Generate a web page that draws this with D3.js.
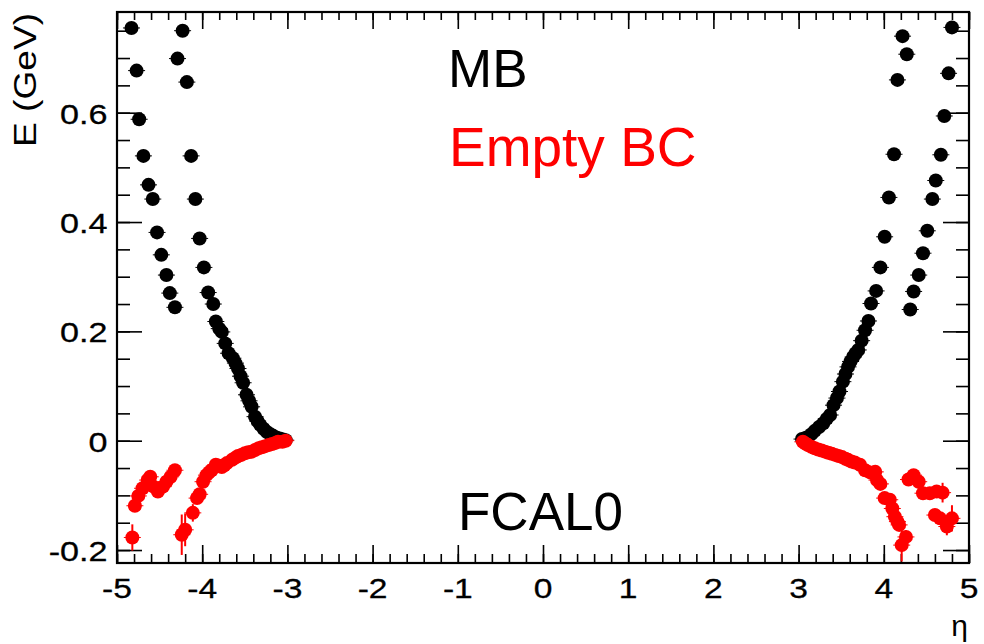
<!DOCTYPE html>
<html><head><meta charset="utf-8">
<script src="https://cdn.jsdelivr.net/npm/d3@7"></script>
<style>body{margin:0;background:#fff}</style>
</head><body>
<svg id="c" width="984" height="644"></svg>
<script>
// ---- data ----
const etaMB = [-4.83,-4.77,-4.74,-4.69,-4.63,-4.58,-4.53,-4.48,-4.42,-4.38,-4.32,
  -4.29,-4.23,-4.18,-4.13,-4.08,-4.03,-3.98,-3.93,-3.87,-3.84,-3.80,-3.77,-3.73,-3.69,-3.64,-3.61,-3.58,-3.55,-3.52,-3.48,-3.45,-3.42,-3.38,-3.35,-3.32,-3.28,-3.24,-3.20,-3.17,-3.13,-3.09,-3.05,-3.02,
  3.04,3.08,3.11,3.15,3.19,3.24,3.29,3.33,3.37,3.41,3.45,3.48,3.52,3.55,3.58,3.61,3.64,3.67,3.70,3.74,3.78,3.82,3.85,3.91,3.96,4.01,4.06,4.12,4.16,4.22,4.27,
  4.31,4.35,4.41,4.46,4.51,4.57,4.61,4.67,4.71,4.76,4.80];
const eMB = [0.755,0.677,0.588,0.521,0.468,0.442,0.381,0.340,0.303,0.270,0.244,
  0.699,0.750,0.656,0.521,0.442,0.370,0.317,0.271,0.250,0.218,0.205,0.199,0.178,0.160,0.151,0.142,0.132,0.118,0.106,0.084,0.073,0.062,0.044,0.036,0.029,0.022,0.016,0.012,0.009,0.006,0.004,0.002,0.001,
  0.003,0.005,0.007,0.012,0.018,0.025,0.032,0.040,0.047,0.065,0.078,0.090,0.108,0.122,0.135,0.145,0.153,0.160,0.166,0.183,0.202,0.219,0.251,0.274,0.317,0.373,0.445,0.524,0.660,0.740,0.707,
  0.240,0.273,0.303,0.343,0.384,0.442,0.476,0.523,0.594,0.672,0.756];

const etaEBC = [-4.82,-4.79,-4.75,-4.70,-4.64,-4.61,-4.57,-4.52,-4.46,-4.42,-4.37,-4.32,
  -4.24,-4.20,-4.11,-4.06,-4.03,-3.99,-3.95,-3.92,-3.89,-3.84,-3.80,-3.77,-3.74,-3.71,-3.65,-3.61,-3.58,-3.54,-3.50,-3.46,-3.42,-3.38,-3.34,-3.30,-3.26,-3.22,-3.18,-3.14,-3.11,-3.06,-3.02,
  3.05,3.08,3.11,3.15,3.19,3.23,3.27,3.31,3.35,3.39,3.43,3.47,3.51,3.55,3.58,3.62,3.66,3.72,3.78,3.84,3.90,3.92,3.96,4.01,4.07,4.10,4.13,4.16,4.18,4.21,4.26,
  4.29,4.35,4.41,4.46,4.54,4.62,4.69,4.60,4.66,4.74,4.80];
const eEBC = [-0.177,-0.119,-0.101,-0.087,-0.072,-0.066,-0.084,-0.093,-0.084,-0.075,-0.066,-0.054,
  -0.172,-0.163,-0.132,-0.105,-0.098,-0.075,-0.063,-0.058,-0.054,-0.044,-0.046,-0.048,-0.045,-0.041,-0.035,-0.031,-0.028,-0.026,-0.023,-0.021,-0.020,-0.017,-0.014,-0.012,-0.010,-0.008,-0.006,-0.004,-0.002,-0.002,0.000,
  -0.002,-0.005,-0.008,-0.011,-0.014,-0.016,-0.018,-0.020,-0.022,-0.024,-0.026,-0.028,-0.030,-0.033,-0.035,-0.038,-0.040,-0.044,-0.054,-0.058,-0.057,-0.072,-0.079,-0.105,-0.108,-0.124,-0.139,-0.148,-0.154,-0.191,-0.176,
  -0.071,-0.063,-0.075,-0.096,-0.096,-0.093,-0.095,-0.136,-0.142,-0.157,-0.142];
const errEBC = [0.024,0.008,0.006,0.006,0.006,0.006,0.006,0.006,0.006,0.006,0.006,0.006,
  0.037,0.030,0.016,0.006,0.006,0.004,0.004,0.004,0.004,0.003,0.003,0.003,0.003,0.003,0.003,0.003,0.003,0.003,0.003,0.003,0.003,0.003,0.003,0.003,0.003,0.003,0.003,0.003,0.003,0.003,0.003,
  0.003,0.003,0.003,0.003,0.003,0.003,0.003,0.003,0.003,0.003,0.003,0.003,0.003,0.003,0.003,0.003,0.003,0.003,0.004,0.004,0.004,0.004,0.005,0.006,0.006,0.008,0.008,0.008,0.008,0.030,0.012,
  0.006,0.006,0.006,0.006,0.008,0.008,0.018,0.008,0.008,0.016,0.024];

const xTickValues = [-5,-4,-3,-2,-1,0,1,2,3,4,5];
const xTickLabels = ["-5","-4","-3","-2","-1","0","1","2","3","4","5"];
const yTickValues = [-0.2,0,0.2,0.4,0.6];
const yTickLabels = ["-0.2","0","0.2","0.4","0.6"];
const xMinor = d3.range(-5, 5.001, 0.2).map(v => +v.toFixed(2));
const yMinor = d3.range(-0.2, 0.7501, 0.05).map(v => +v.toFixed(2));

// ---- layout ----
const L = 117, R = 969, T = 12, B = 563;
const x = d3.scaleLinear().domain([-5, 5]).range([L, R]);
const y = d3.scaleLinear().domain([-0.2237, 0.7842]).range([B, T]);
const svg = d3.select("#c");
const font = "'Liberation Sans', Arial, Helvetica, sans-serif";

// axes ticks (pointing inward)
function tickAxis(gen, tr, size, vals) {
  const g = svg.append("g").attr("transform", tr)
    .call(gen.tickValues(vals).tickSize(size).tickFormat(""));
  g.select(".domain").remove();
  g.selectAll("line").attr("stroke", "#000").attr("stroke-width", 1.6);
}
tickAxis(d3.axisBottom(x), `translate(0,${B})`, -9, xMinor);
tickAxis(d3.axisBottom(x), `translate(0,${B})`, -18, xTickValues);
tickAxis(d3.axisTop(x), `translate(0,${T})`, -8, xMinor);
tickAxis(d3.axisTop(x), `translate(0,${T})`, -17, xTickValues);
tickAxis(d3.axisLeft(y), `translate(${L},0)`, -13, yMinor);
tickAxis(d3.axisLeft(y), `translate(${L},0)`, -25, yTickValues);
tickAxis(d3.axisRight(y), `translate(${R},0)`, -13, yMinor);
tickAxis(d3.axisRight(y), `translate(${R},0)`, -26, yTickValues);

// frame
svg.append("rect").attr("x", L).attr("y", T).attr("width", R - L).attr("height", B - T)
  .attr("fill", "none").attr("stroke", "#000").attr("stroke-width", 2.2);

// tick labels
svg.append("g").selectAll("text").data(xTickValues).join("text")
  .attr("transform", d => `translate(${x(d)},${598}) scale(1.2,1)`)
  .attr("text-anchor", "middle").attr("font-family", font).attr("font-size", 28)
  .attr("stroke", "#000").attr("stroke-width", 0.3)
  .text((d, i) => xTickLabels[i]);
svg.append("g").selectAll("text").data(yTickValues).join("text")
  .attr("transform", d => `translate(${107.5},${y(d) + 11}) scale(1.22,1)`)
  .attr("text-anchor", "end").attr("font-family", font).attr("font-size", 28)
  .attr("stroke", "#000").attr("stroke-width", 0.3)
  .text((d, i) => yTickLabels[i]);

// axis titles
svg.append("text").attr("transform", "translate(36,13) rotate(-90)")
  .attr("text-anchor", "end").attr("font-family", font).attr("font-size", 32)
  .attr("textLength", 134).attr("lengthAdjust", "spacingAndGlyphs").text("E (GeV)");
svg.append("text").attr("x", 968).attr("y", 636).attr("text-anchor", "end")
  .attr("font-family", font).attr("font-size", 30).text("η");

// data series
function series(etas, es, errs, color) {
  const pts = etas.map((e, i) => ({ x: e, y: es[i], err: errs ? errs[i] : 0.002 }));
  const g = svg.append("g");
  g.selectAll("line.ey").data(pts).join("line").attr("class", "ey")
    .attr("x1", d => x(d.x)).attr("x2", d => x(d.x))
    .attr("y1", d => y(d.y - d.err)).attr("y2", d => y(d.y + d.err))
    .attr("stroke", color).attr("stroke-width", 2);
  g.selectAll("line.ex").data(pts).join("line").attr("class", "ex")
    .attr("x1", d => x(d.x) - 8.5).attr("x2", d => x(d.x) + 8.5)
    .attr("y1", d => y(d.y)).attr("y2", d => y(d.y))
    .attr("stroke", color).attr("stroke-width", 1);
  g.selectAll("circle").data(pts).join("circle")
    .attr("cx", d => x(d.x)).attr("cy", d => y(d.y)).attr("r", 7)
    .attr("fill", color);
}
series(etaMB, eMB, null, "#000");
series(etaEBC, eEBC, errEBC, "#ff0000");

// labels
svg.append("text").attr("x", 448).attr("y", 87).attr("font-family", font)
  .attr("font-size", 53).attr("fill", "#000").text("MB");
svg.append("text").attr("x", 449).attr("y", 166).attr("font-family", font)
  .attr("font-size", 55).attr("fill", "#ff0000").text("Empty BC");
svg.append("text").attr("x", 458).attr("y", 530).attr("font-family", font)
  .attr("font-size", 53).attr("fill", "#000").text("FCAL0");
</script>
</body></html>
